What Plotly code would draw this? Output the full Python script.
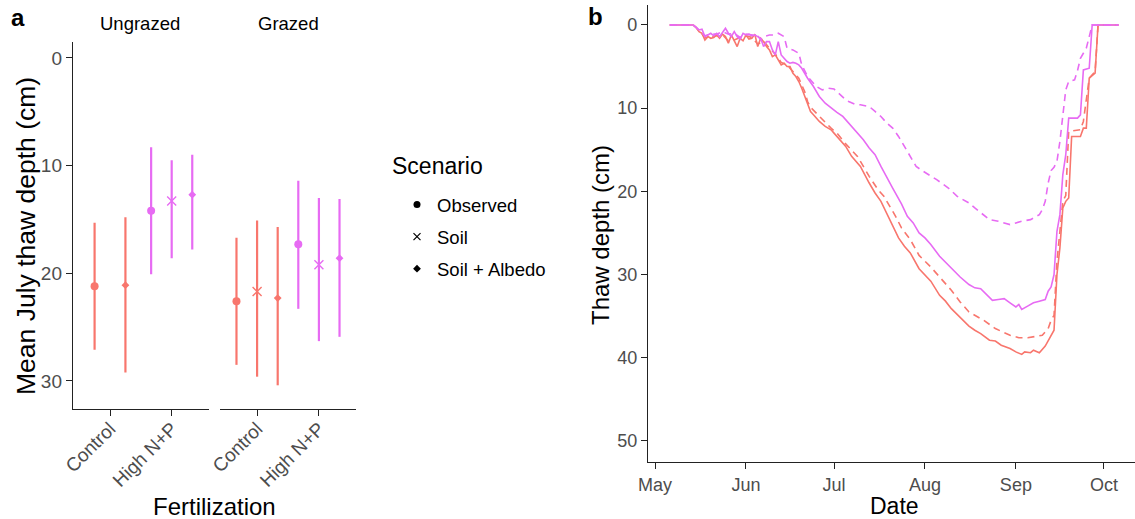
import plotly.graph_objects as go
import pandas as pd

W, H = 1135, 519

# ---------------- Panel a data ----------------
facets = ["Ungrazed", "Grazed"]
fertilization = ["Control", "High N+P"]
scenarios = ["Observed", "Soil", "Soil + Albedo"]

# rows: fertilization (Control, High N+P); columns: scenario (Observed, Soil, Soil + Albedo)
ungrazed_mean = [[21.2, None, 21.1], [14.2, 13.3, 12.7]]
ungrazed_low = [[15.3, None, 14.8], [8.3, 9.5, 9.0]]
ungrazed_high = [[27.1, None, 29.2], [20.1, 18.6, 17.8]]
grazed_mean = [[22.6, 21.7, 22.3], [17.3, 19.2, 18.6]]
grazed_low = [[16.7, 15.1, 15.7], [11.4, 13.0, 13.1]]
grazed_high = [[28.5, 29.6, 30.4], [23.3, 26.3, 25.9]]

# ---------------- Panel b data (day offset from 1 May, thaw depth cm) ----------------
start_date = "2017-05-01"
month_ticks = ["2017-05-01", "2017-06-01", "2017-07-01", "2017-08-01", "2017-09-01", "2017-10-01"]
month_labels = ["May", "Jun", "Jul", "Aug", "Sep", "Oct"]

control_solid = [(5, 0), (13, 0), (14, 0.3), (15, 0.8), (16, 1.0), (17, 1.8), (18, 1.4), (19, 1.6), (20, 1.5),
                 (21, 1.2), (22, 1.6), (23, 1.1), (24, 1.4), (25, 2.2), (26, 1.2), (27, 2.0), (28, 2.6), (29, 1.6),
                 (30, 1.9), (31, 1.2), (32, 1.7), (33, 1.6), (34, 1.1), (35, 2.6), (36, 1.6), (37, 2.0), (38, 2.6),
                 (39, 3.0), (40, 3.8), (41, 3.6), (42, 4.2), (43, 4.8), (44, 4.6), (45, 5.0), (46, 5.0), (47, 5.8),
                 (48, 6.2), (49, 6.8), (50, 7.6), (51, 8.6), (52, 9.6), (53, 10.4), (54, 10.8), (55, 11.2),
                 (56, 11.6), (58, 12.2), (60, 12.6), (61, 13.0), (63, 13.8), (65, 14.6), (67, 15.8), (70, 17.0),
                 (73, 19.0), (75, 20.2), (77, 21.2), (80, 23.4), (83, 25.6), (85, 26.6), (87, 27.4), (90, 29.3),
                 (92, 30.0), (94, 30.8), (97, 32.5), (99, 33.2), (101, 34.1), (104, 35.1), (107, 36.2), (109, 36.7),
                 (111, 37.1), (114, 37.9), (116, 38.0), (118, 38.5), (121, 38.9), (123, 39.3), (125, 39.6),
                 (126, 39.3), (128, 39.4), (129, 39.1), (131, 39.4), (133, 38.6), (135, 37.3), (136, 36.7),
                 (137, 30.0), (138, 26.8), (139, 22.0), (140, 21.2), (141, 20.8), (142, 13.4), (145, 13.4),
                 (146, 12.4), (147, 12.4), (148, 6.4), (150, 5.8), (151, 0), (158, 0)]

control_dashed = [(5, 0), (13, 0), (14, 0.3), (15, 0.7), (17, 1.5), (19, 1.5), (21, 1.3), (23, 1.2), (25, 1.9),
                  (27, 1.8), (29, 1.5), (31, 1.3), (33, 1.5), (35, 2.3), (37, 1.9), (39, 2.8), (41, 3.5), (43, 4.5),
                  (45, 4.8), (47, 5.6), (49, 6.4), (51, 8.0), (52, 9.2), (53, 9.9), (55, 10.6), (57, 11.4),
                  (60, 12.4), (62, 13.0), (65, 14.3), (69, 15.8), (73, 18.2), (76, 19.8), (78, 20.6), (82, 23.0),
                  (84, 24.4), (87, 25.8), (90, 27.7), (94, 29.1), (97, 30.3), (101, 31.9), (104, 33.3), (107, 34.5),
                  (112, 35.5), (116, 36.5), (121, 37.3), (124, 37.6), (127, 37.6), (130, 37.4), (132, 37.3),
                  (134, 36.5), (135, 35.5), (136, 34.9), (137, 28.4), (139, 21.2), (140, 20.5), (141, 12.8),
                  (145, 12.6), (146, 11.6), (148, 6.4), (150, 5.6), (151, 0), (158, 0)]

high_np_solid = [(5, 0), (13, 0), (14, 0.3), (15, 0.6), (16, 0.5), (17, 1.4), (18, 1.2), (19, 1.0), (20, 1.3),
                 (21, 1.0), (22, 1.4), (23, 0.9), (24, 0.4), (25, 1.0), (26, 1.4), (27, 0.8), (28, 1.4), (29, 1.7),
                 (30, 1.0), (31, 1.2), (32, 1.1), (33, 1.3), (34, 1.2), (35, 1.4), (36, 1.6), (37, 2.6), (38, 2.0),
                 (39, 2.0), (40, 3.0), (41, 3.6), (42, 2.0), (43, 3.6), (44, 4.0), (45, 4.4), (46, 4.6), (47, 4.5),
                 (48, 4.6), (49, 4.8), (50, 5.2), (51, 5.8), (52, 6.4), (54, 7.4), (56, 8.6), (58, 9.4), (60, 10.0),
                 (62, 10.5), (64, 11.0), (67, 12.2), (69, 13.0), (71, 13.8), (73, 14.8), (75, 15.6), (77, 17.0),
                 (79, 18.4), (81, 19.6), (84, 21.5), (86, 23.0), (88, 23.8), (90, 25.0), (92, 25.6), (94, 26.4),
                 (97, 27.8), (99, 28.5), (101, 29.2), (104, 30.3), (107, 31.2), (109, 31.6), (111, 31.7),
                 (113, 32.4), (115, 33.1), (117, 33.0), (119, 32.9), (121, 33.4), (123, 33.9), (124, 33.6),
                 (125, 34.2), (127, 33.8), (129, 33.4), (131, 33.2), (133, 33.0), (134, 32.0), (135, 31.5),
                 (136, 30.0), (137, 24.8), (138, 22.8), (139, 18.0), (140, 15.6), (141, 11.2), (144, 11.2),
                 (145, 10.8), (146, 5.4), (148, 5.2), (149, 0), (158, 0)]

high_np_dashed = [(5, 0), (13, 0), (14, 0.3), (15, 0.6), (17, 1.3), (19, 1.1), (21, 1.1), (23, 0.8), (25, 1.1),
                  (27, 1.0), (29, 1.5), (31, 1.1), (33, 1.2), (35, 1.3), (36, 1.8), (37, 1.4), (39, 1.2), (41, 1.2),
                  (42, 1.0), (44, 1.4), (45, 2.8), (47, 3.0), (48, 3.2), (49, 3.4), (50, 4.8), (52, 6.2), (54, 7.0),
                  (55, 7.4), (57, 7.8), (59, 7.6), (61, 7.7), (63, 8.4), (65, 9.0), (66, 9.2), (68, 9.5), (70, 9.6),
                  (73, 9.8), (75, 10.4), (77, 11.0), (79, 11.8), (81, 12.4), (83, 13.4), (85, 14.6), (87, 15.8),
                  (89, 17.0), (91, 17.5), (93, 17.9), (96, 18.6), (98, 19.1), (100, 19.6), (103, 20.6), (105, 21.0),
                  (107, 21.4), (109, 22.0), (111, 22.6), (114, 23.4), (117, 23.6), (119, 23.8), (121, 24.0),
                  (123, 23.8), (125, 23.6), (128, 23.4), (131, 22.8), (132, 22.2), (133, 21.2), (134, 19.0),
                  (135, 17.5), (136, 17.1), (137, 16.4), (138, 14.0), (139, 11.0), (140, 7.8), (141, 6.8),
                  (143, 6.6), (144, 5.5), (145, 4.0), (147, 2.8), (148, 1.4), (149, 0), (158, 0)]

# ---------------- Styling ----------------
RED = "#F8766D"
MAG = "#E76BF3"
fert_colors = {"Control": RED, "High N+P": MAG}
symbols = {"Observed": "circle", "Soil": "x-thin", "Soil + Albedo": "diamond"}
sizes = {"Observed": 8, "Soil": 9, "Soil + Albedo": 6}
legend_sizes = {"Observed": 7, "Soil": 7, "Soil + Albedo": 6}
FONT = "Liberation Sans, Arial, sans-serif"
TICK_COL = "#4D4D4D"
AX_COL = "#222222"


def fx(px):
    return px / W


def fy(py):
    return 1 - py / H


fig = go.Figure()

# Panel a: point + interval, dodged by scenario
panel_a = {
    "Ungrazed": (ungrazed_mean, ungrazed_low, ungrazed_high, "x"),
    "Grazed": (grazed_mean, grazed_low, grazed_high, "x2"),
}
dodge_width = 1.0
for facet in facets:
    means, lows, highs, xa = panel_a[facet]
    for fi, fert in enumerate(fertilization):
        present = [si for si in range(len(scenarios)) if means[fi][si] is not None]
        n = len(present)
        for k, si in enumerate(present):
            sc = scenarios[si]
            xpos = (fi + 1) + (k - (n - 1) / 2) * dodge_width / n
            m, lo, hi = means[fi][si], lows[fi][si], highs[fi][si]
            col = fert_colors[fert]
            fig.add_trace(go.Scatter(
                x=[xpos], y=[m], xaxis=xa, yaxis="y", mode="markers",
                marker=dict(symbol=symbols[sc], size=sizes[sc], color=col,
                            line=dict(width=1.4 if sc == "Soil" else 0, color=col)),
                error_y=dict(type="data", symmetric=False, array=[hi - m], arrayminus=[m - lo],
                             color=col, thickness=2.2, width=0),
                showlegend=False, hoverinfo="skip"))

# legend entries (black symbols)
for i, sc in enumerate(scenarios):
    fig.add_trace(go.Scatter(
        x=[None], y=[None], xaxis="x", yaxis="y", mode="markers", name=sc,
        legendgroup=sc,
        marker=dict(symbol=symbols[sc], size=legend_sizes[sc], color="black",
                    line=dict(width=1.2 if sc == "Soil" else 0, color="black")),
        showlegend=True))

# Panel b lines
base = pd.Timestamp(start_date)
series_b = [
    (control_solid, RED, "solid"),
    (control_dashed, RED, "dash"),
    (high_np_dashed, MAG, "dash"),
    (high_np_solid, MAG, "solid"),
]
for series, col, dash in series_b:
    days = [d for d, _ in series]
    depth = [v for _, v in series]
    dates = [base + pd.Timedelta(days=d) for d in days]
    fig.add_trace(go.Scatter(
        x=dates, y=depth, xaxis="x3", yaxis="y3", mode="lines",
        line=dict(color=col, width=1.6, dash="7px,5px" if dash == "dash" else "solid"),
        showlegend=False, hoverinfo="skip"))

axis_common = dict(showgrid=False, zeroline=False, showline=True, linecolor=AX_COL, linewidth=1.4,
                   ticks="outside", ticklen=6, tickwidth=1.3, tickcolor=AX_COL, automargin=False)

x_end = base + pd.Timedelta(days=163.6)
x_start = base - pd.Timedelta(days=2.4)

fig.update_layout(
    width=W, height=H,
    margin=dict(l=0, r=0, t=0, b=0, autoexpand=False),
    paper_bgcolor="white", plot_bgcolor="white",
    font=dict(family=FONT, color="black"),
    xaxis=dict(domain=[fx(73), fx(208.7)], range=[0.4, 2.6], anchor="y",
               tickvals=[1, 2], ticktext=fertilization, tickangle=-45, ticklabelstandoff=-6,
               tickfont=dict(size=19, color=TICK_COL, family=FONT), **axis_common),
    xaxis2=dict(domain=[fx(220), fx(356)], range=[0.4, 2.6], anchor="y",
                tickvals=[1, 2], ticktext=fertilization, tickangle=-45, ticklabelstandoff=-6,
                tickfont=dict(size=19, color=TICK_COL, family=FONT), **axis_common),
    yaxis=dict(domain=[fy(409), fy(41.7)], range=[32.6, -1.5], anchor="x",
               tickvals=[0, 10, 20, 30], tickfont=dict(size=19, color=TICK_COL, family=FONT),
               **axis_common),
    xaxis3=dict(domain=[fx(648), 1.0], range=[x_start, x_end], anchor="y3", type="date",
                tickvals=month_ticks, ticktext=month_labels,
                tickfont=dict(size=18, color=TICK_COL, family=FONT), **axis_common),
    yaxis3=dict(domain=[fy(461.7), fy(5)], range=[52.5, -2.4], anchor="x3",
                tickvals=[0, 10, 20, 30, 40, 50], tickfont=dict(size=18, color=TICK_COL, family=FONT),
                **axis_common),
    showlegend=True,
    legend=dict(x=fx(397), y=fy(186), xanchor="left", yanchor="top",
                font=dict(size=18.5, family=FONT, color="black"),
                traceorder="grouped", tracegroupgap=5, itemwidth=30,
                bgcolor="rgba(0,0,0,0)", borderwidth=0),
)

annotations = [
    dict(text="<b>a</b>", x=fx(9), y=fy(18), xanchor="left", yanchor="middle", font=dict(size=24)),
    dict(text="<b>b</b>", x=fx(586), y=fy(17), xanchor="left", yanchor="middle", font=dict(size=24)),
    dict(text="Ungrazed", x=fx(140), y=fy(24), xanchor="center", yanchor="middle", font=dict(size=18.5)),
    dict(text="Grazed", x=fx(288), y=fy(24), xanchor="center", yanchor="middle", font=dict(size=18.5)),
    dict(text="Scenario", x=fx(390), y=fy(166), xanchor="left", yanchor="middle", font=dict(size=23)),
    dict(text="Fertilization", x=fx(214), y=fy(506), xanchor="center", yanchor="middle", font=dict(size=24)),
    dict(text="Mean July thaw depth (cm)", x=fx(26), y=fy(236), xanchor="center", yanchor="middle",
         textangle=-90, font=dict(size=26.5)),
    dict(text="Date", x=fx(894), y=fy(506), xanchor="center", yanchor="middle", font=dict(size=23)),
    dict(text="Thaw depth (cm)", x=fx(600), y=fy(235), xanchor="center", yanchor="middle",
         textangle=-90, font=dict(size=24)),
]
for a in annotations:
    a.update(xref="paper", yref="paper", showarrow=False)
    a["font"] = dict(family=FONT, color="black", **a["font"])
fig.update_layout(annotations=annotations)

fig.write_html("out.html", config={"displayModeBar": False},
               post_script="document.body.style.margin='0px';")
